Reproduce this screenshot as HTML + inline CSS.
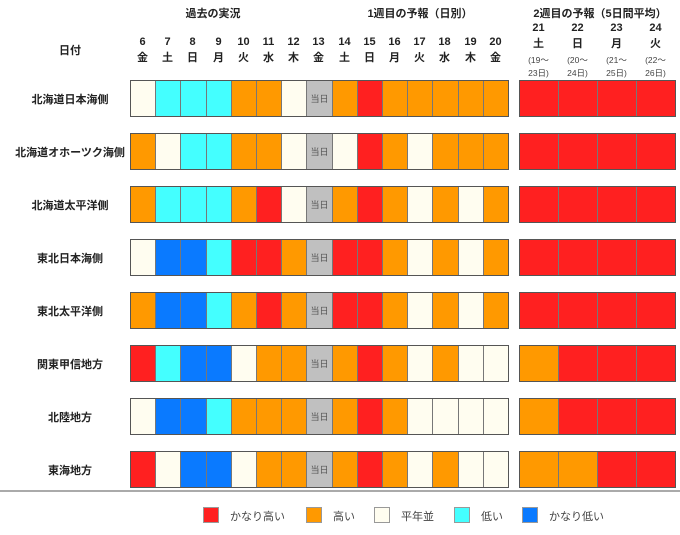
<!DOCTYPE html>
<html><head><meta charset="utf-8">
<style>
body{margin:0;width:680px;height:535px;background:#fff;position:relative;overflow:hidden;font-family:"Liberation Sans","Noto Sans CJK JP",sans-serif;color:#222;}
.t{position:absolute;font-size:11px;font-weight:bold;text-align:center;white-space:nowrap;}
.c{position:absolute;box-sizing:border-box;border-left:1px solid #777;}
.g{font-size:9px;color:#555;display:flex;align-items:center;justify-content:center;font-weight:normal;}
.blk{position:absolute;border:1px solid #555;box-sizing:border-box;pointer-events:none;}
.lg{position:absolute;top:507px;width:16px;height:16px;box-sizing:border-box;border:1px solid #999;}
.lt{position:absolute;top:508px;font-size:11px;color:#444;}
</style></head><body>
<div class="t" style="left:183px;top:5px;width:60px">過去の実況</div>
<div class="t" style="left:360px;top:5px;width:120px">1週目の予報（日別）</div>
<div class="t" style="left:530px;top:5px;width:140px">2週目の予報（5日間平均）</div>
<div class="t" style="left:40px;top:42px;width:60px">日付</div>
<div id="root"></div>
<div style="position:absolute;left:0;top:490px;width:680px;height:2px;background:#aaa"></div>
<div class="lg" style="left:203px;background:#ff2020"></div><div class="lt" style="left:230px">かなり高い</div>
<div class="lg" style="left:306px;background:#ff9900"></div><div class="lt" style="left:333px">高い</div>
<div class="lg" style="left:374px;background:#fffdf0"></div><div class="lt" style="left:401px">平年並</div>
<div class="lg" style="left:454px;background:#44ffff"></div><div class="lt" style="left:481px">低い</div>
<div class="lg" style="left:522px;background:#0a7aff"></div><div class="lt" style="left:549px">かなり低い</div>
<script>
var col={W:"#fffdf0",C:"#44ffff",B:"#0a7aff",O:"#ff9900",R:"#ff2020",G:"#c0c0c0"};
var rows=[["北海道日本海側","WCCCOOWGOROOOOO","RRRR"],
["北海道オホーツク海側","OWCCOOWGWROWOOO","RRRR"],
["北海道太平洋側","OCCCORWGOROWOWO","RRRR"],
["東北日本海側","WBBCRROGRROWOWO","RRRR"],
["東北太平洋側","OBBCOROGRROWOWO","RRRR"],
["関東甲信地方","RCBBWOOGOROWOWW","ORRR"],
["北陸地方","WBBCOOOGOROWWWW","ORRR"],
["東海地方","RWBBWOOGOROWOWW","OORR"]];
var days=["金","土","日","月","火","水","木","金","土","日","月","火","水","木","金"];
var h="",cw=25.2,x0=130;
function L(i){return Math.round(x0+i*cw);}
for(var i=0;i<15;i++){h+='<div class="t" style="left:'+L(i)+'px;top:34px;width:25px;line-height:16px">'+(6+i)+'<br>'+days[i]+'</div>';}
var rd=["土","日","月","火"];
for(var j=0;j<4;j++){var n=21+j;h+='<div class="t" style="left:'+(519+j*39)+'px;top:20px;width:39px;line-height:16px">'+n+'<br>'+rd[j]+'</div><div class="t" style="left:'+(519+j*39)+'px;top:54px;width:39px;font-size:8.5px;font-weight:normal;line-height:13px;color:#444">('+(19+j)+'～<br>'+(23+j)+'日)</div>';}
rows.forEach(function(r,k){var y=80+k*53;
h+='<div class="t" style="left:0;top:'+(y+11)+'px;width:140px">'+r[0]+'</div>';
for(var i=0;i<15;i++){var c=r[1][i];h+='<div class="c'+(c=="G"?' g':'')+'" style="left:'+L(i)+'px;top:'+y+'px;width:'+(L(i+1)-L(i))+'px;height:37px;background:'+col[c]+'">'+(c=="G"?"当日":"")+'</div>';}
h+='<div class="blk" style="left:'+x0+'px;top:'+y+'px;width:'+(L(15)-x0+1)+'px;height:37px"></div>';
for(var j=0;j<4;j++){h+='<div class="c" style="left:'+(519+j*39)+'px;top:'+y+'px;width:39px;height:37px;background:'+col[r[2][j]]+'"></div>';}
h+='<div class="blk" style="left:519px;top:'+y+'px;width:157px;height:37px"></div>';
});
document.getElementById("root").innerHTML=h;
</script>
</body></html>
